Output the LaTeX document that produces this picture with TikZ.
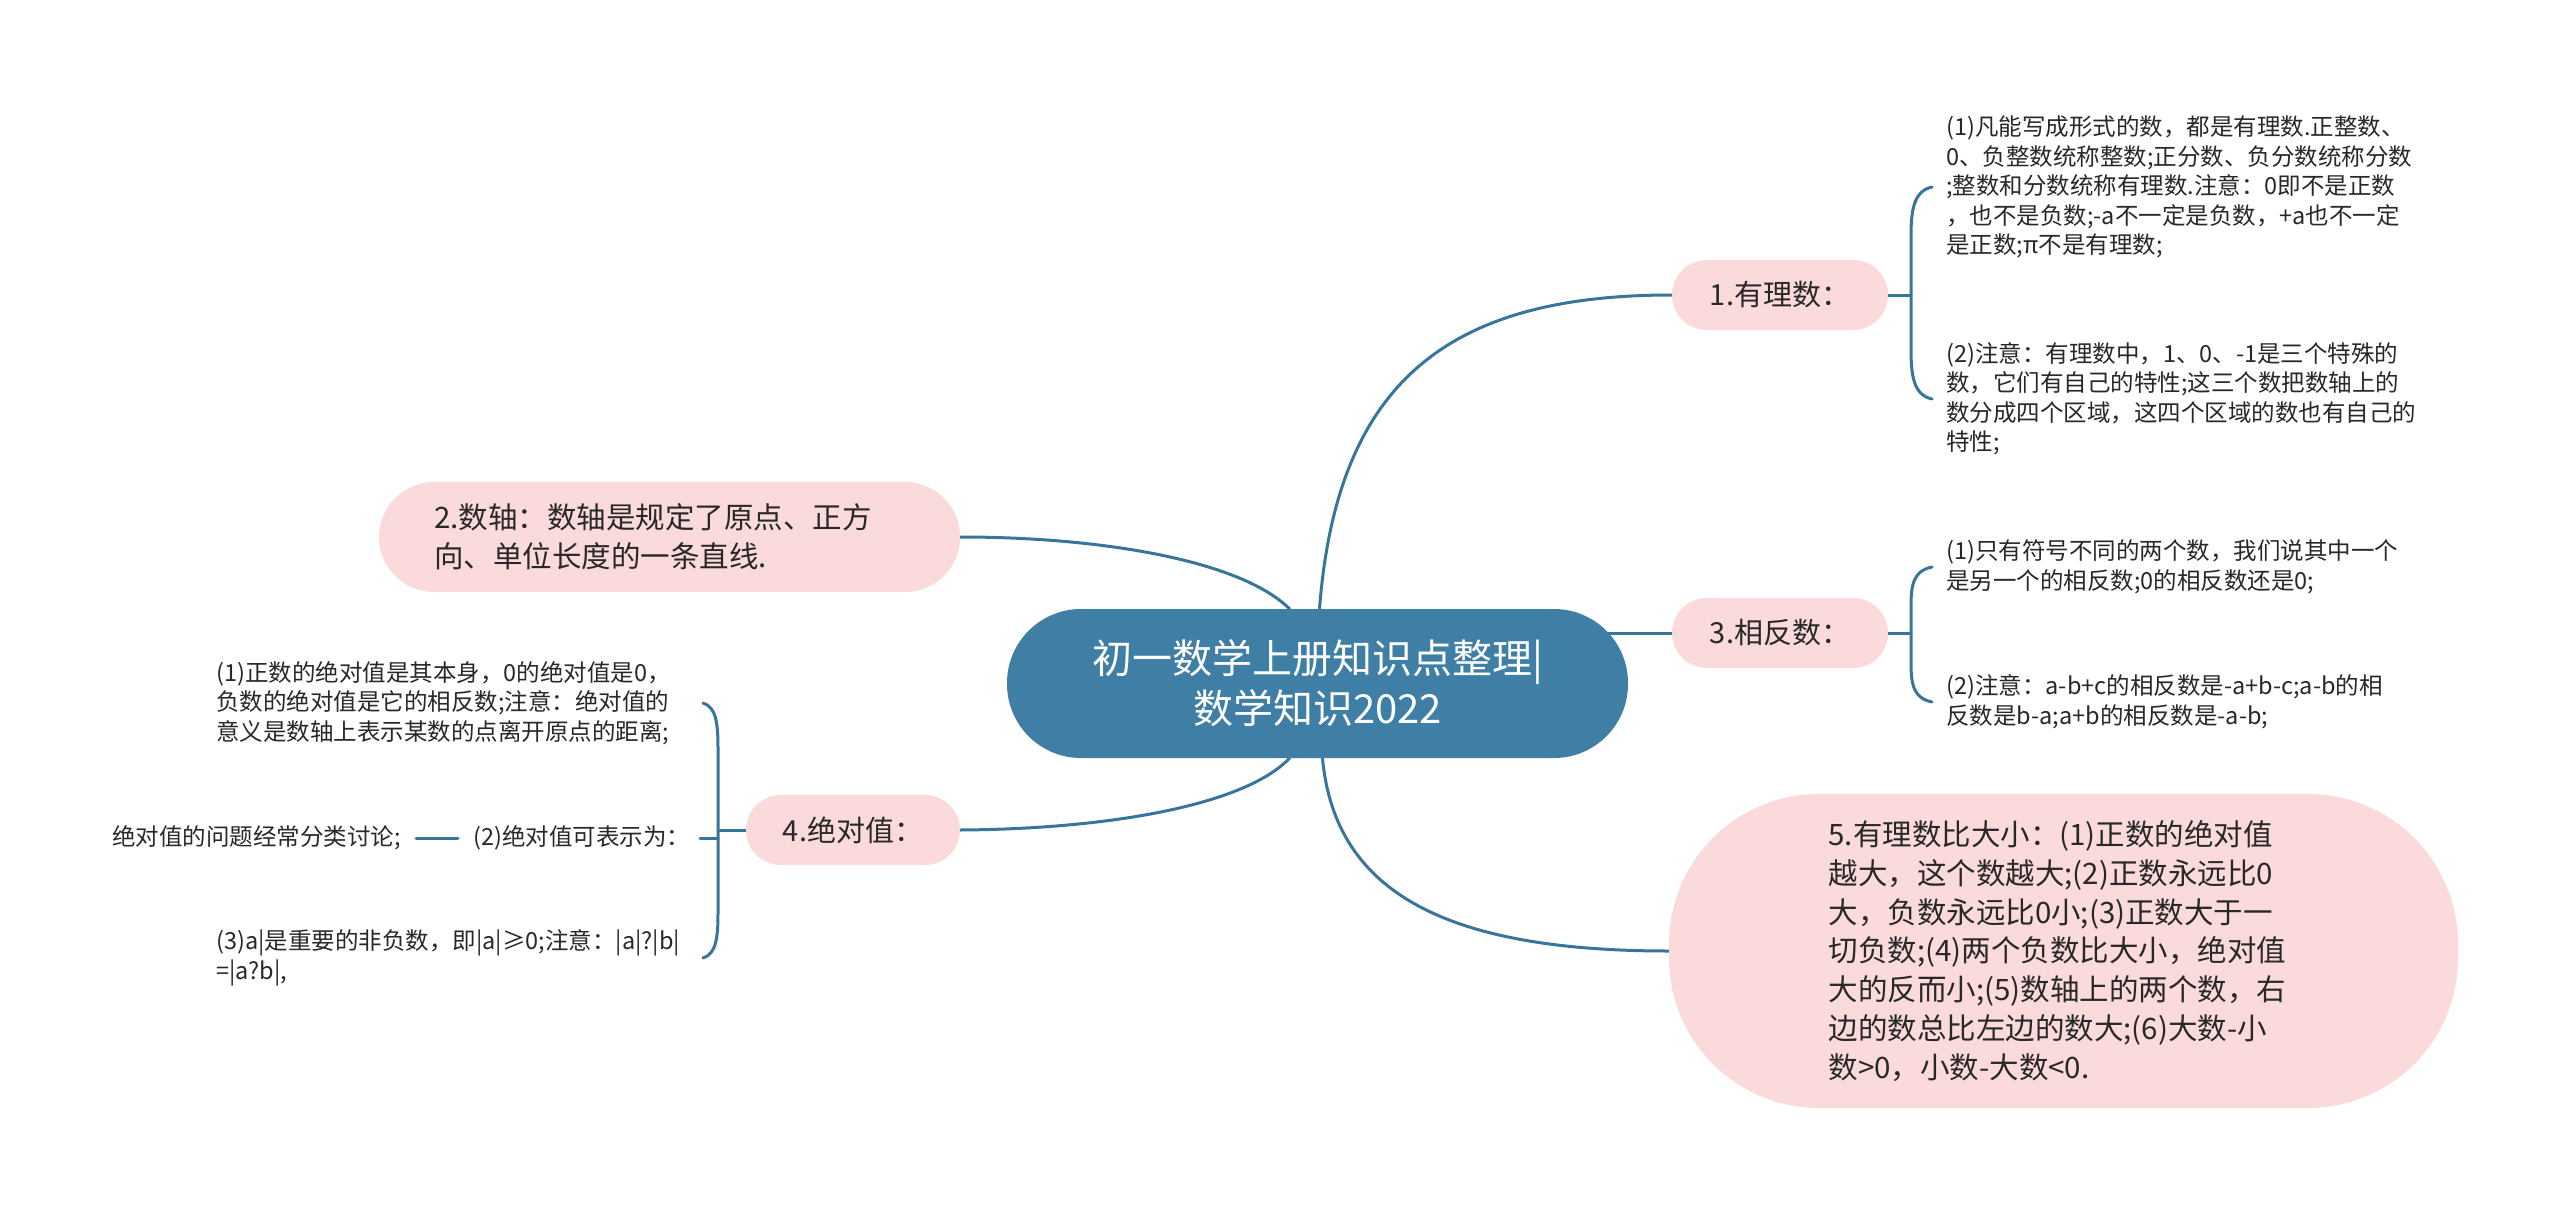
\documentclass[tikz,border=0pt]{standalone}
\usepackage{fontspec}
\setmainfont{Noto Sans CJK SC}
\pgfdeclarelayer{bg}
\pgfsetlayers{bg,main}
\definecolor{pinkfill}{RGB}{250,218,218}
\definecolor{rootfill}{RGB}{63,126,165}
\definecolor{linkc}{RGB}{56,117,155}
\definecolor{txt}{RGB}{40,40,40}
\begin{document}
\begin{tikzpicture}[x=1pt,y=-1pt,
  pinkbox/.style={fill=pinkfill, rounded corners=35pt, minimum height=70pt, text=txt,
    font=\fontsize{29}{36}\selectfont, inner sep=0pt},
  leaf/.style={inner sep=0pt, anchor=west, align=left, text=txt,
    font=\fontsize{23.5}{29.5}\selectfont},
  link/.style={draw=linkc, line width=3pt, line cap=round},
]
\useasboundingbox (0,0) rectangle (2560,1209);
\begin{pgfonlayer}{bg}
\fill[white] (0,0) rectangle (2560,1209);
\end{pgfonlayer}

% root
\node[fill=rootfill, rounded corners=74pt, minimum width=621pt, minimum height=149pt,
  inner sep=0pt, text=white, align=center, font=\fontsize{40}{50}\selectfont]
  (root) at (1317.5,683.5) {初一数学上册知识点整理|\\数学知识2022};

% main topics
\node[pinkbox, minimum width=216pt] (n1) at (1780,295) {1.有理数：};
\node[pinkbox, minimum width=216pt] (n3) at (1780,633) {3.相反数：};
\node[pinkbox, minimum width=214pt] (n4) at (853,830) {4.绝对值：};
\node[pinkbox, rounded corners=55pt, minimum width=581pt, minimum height=110pt,
  text width=471pt, align=left, font=\fontsize{29.5}{39}\selectfont]
  (n2) at (669.5,537) {2.数轴：数轴是规定了原点、正方\\向、单位长度的一条直线.};
\node[pinkbox, rounded corners=150pt, minimum width=789pt, minimum height=314pt,
  text width=470pt, align=left, font=\fontsize{29.5}{38.7}\selectfont]
  (n5) at (2063.5,951) {5.有理数比大小：(1)正数的绝对值\\越大，这个数越大;(2)正数永远比0\\大，负数永远比0小;(3)正数大于一\\切负数;(4)两个负数比大小，绝对值\\大的反而小;(5)数轴上的两个数，右\\边的数总比左边的数大;(6)大数-小\\数>0，小数-大数<0.};

% leaves of 1
\node[leaf] (a1) at (1946,187) {(1)凡能写成形式的数，都是有理数.正整数、\\0、负整数统称整数;正分数、负分数统称分数\\;整数和分数统称有理数.注意：0即不是正数\\，也不是负数;-a不一定是负数，+a也不一定\\是正数;π不是有理数;};
\node[leaf] (a2) at (1946,399) {(2)注意：有理数中，1、0、-1是三个特殊的\\数，它们有自己的特性;这三个数把数轴上的\\数分成四个区域，这四个区域的数也有自己的\\特性;};
% leaves of 3
\node[leaf] (b1) at (1946,567) {(1)只有符号不同的两个数，我们说其中一个\\是另一个的相反数;0的相反数还是0;};
\node[leaf] (b2) at (1946,702) {(2)注意：a-b+c的相反数是-a+b-c;a-b的相\\反数是b-a;a+b的相反数是-a-b;};
% leaves of 4
\node[leaf] (d1) at (216,703) {(1)正数的绝对值是其本身，0的绝对值是0，\\负数的绝对值是它的相反数;注意：绝对值的\\意义是数轴上表示某数的点离开原点的距离;};
\node[leaf] (d2) at (473,838) {(2)绝对值可表示为：};
\node[leaf, anchor=east] (d2b) at (401,838) {绝对值的问题经常分类讨论;};
\node[leaf] (d3) at (216,958) {(3)a|是重要的非负数，即|a|≥0;注意：|a|?|b|\\=|a?b|,};

\begin{pgfonlayer}{bg}
% root connectors
\draw[link] ([xshift=2pt]root.north) .. controls (1337,380) and (1450,295) .. (n1.west);
\draw[link] (n2.east) .. controls (1100,537) and (1240,560) .. ([xshift=-28pt]root.north);
\draw[link] (root.center |- n3.west) -- (n3.west);
\draw[link] ([xshift=-28pt]root.south) .. controls (1245,805) and (1110,829) .. (n4.east);
\draw[link] ([xshift=5pt]root.south) .. controls (1335,895) and (1450,951) .. (n5.west);

% bracket of 1
\coordinate (k1) at ([xshift=-35pt]a1.west);
\draw[link] (n1.east) -- (k1 |- n1.east);
\draw[link] ([xshift=-14pt]a1.west) .. controls +(-19,4) and +(0,-25) .. ++(-21,50)
  -- ([xshift=-35pt,yshift=50pt]a2.west) .. controls +(0,25) and +(-19,-4) .. ([xshift=-14pt]a2.west);
% bracket of 3
\coordinate (k3) at ([xshift=-35pt]b1.west);
\draw[link] (n3.east) -- (k3 |- n3.east);
\draw[link] ([xshift=-14pt]b1.west) .. controls +(-19,4) and +(0,-22) .. ++(-21,40)
  -- ([xshift=-35pt,yshift=40pt]b2.west) .. controls +(0,22) and +(-19,-4) .. ([xshift=-14pt]b2.west);
% bracket of 4
\coordinate (k4t) at (703,703);
\coordinate (k4b) at (703,958);
\coordinate (k4m) at (718,830);
\draw[link] (n4.west) -- (k4m);
\draw[link] (k4t) .. controls +(13,4) and +(0,-25) .. ++(15,45)
  -- (718,913) .. controls +(0,25) and +(13,-4) .. (k4b);
\draw[link] (718,838) -- ([xshift=227pt]d2.west);
\draw[link] ([xshift=-15pt]d2.west) -- ([xshift=15pt]d2b.east);
\end{pgfonlayer}
\end{tikzpicture}
\end{document}
